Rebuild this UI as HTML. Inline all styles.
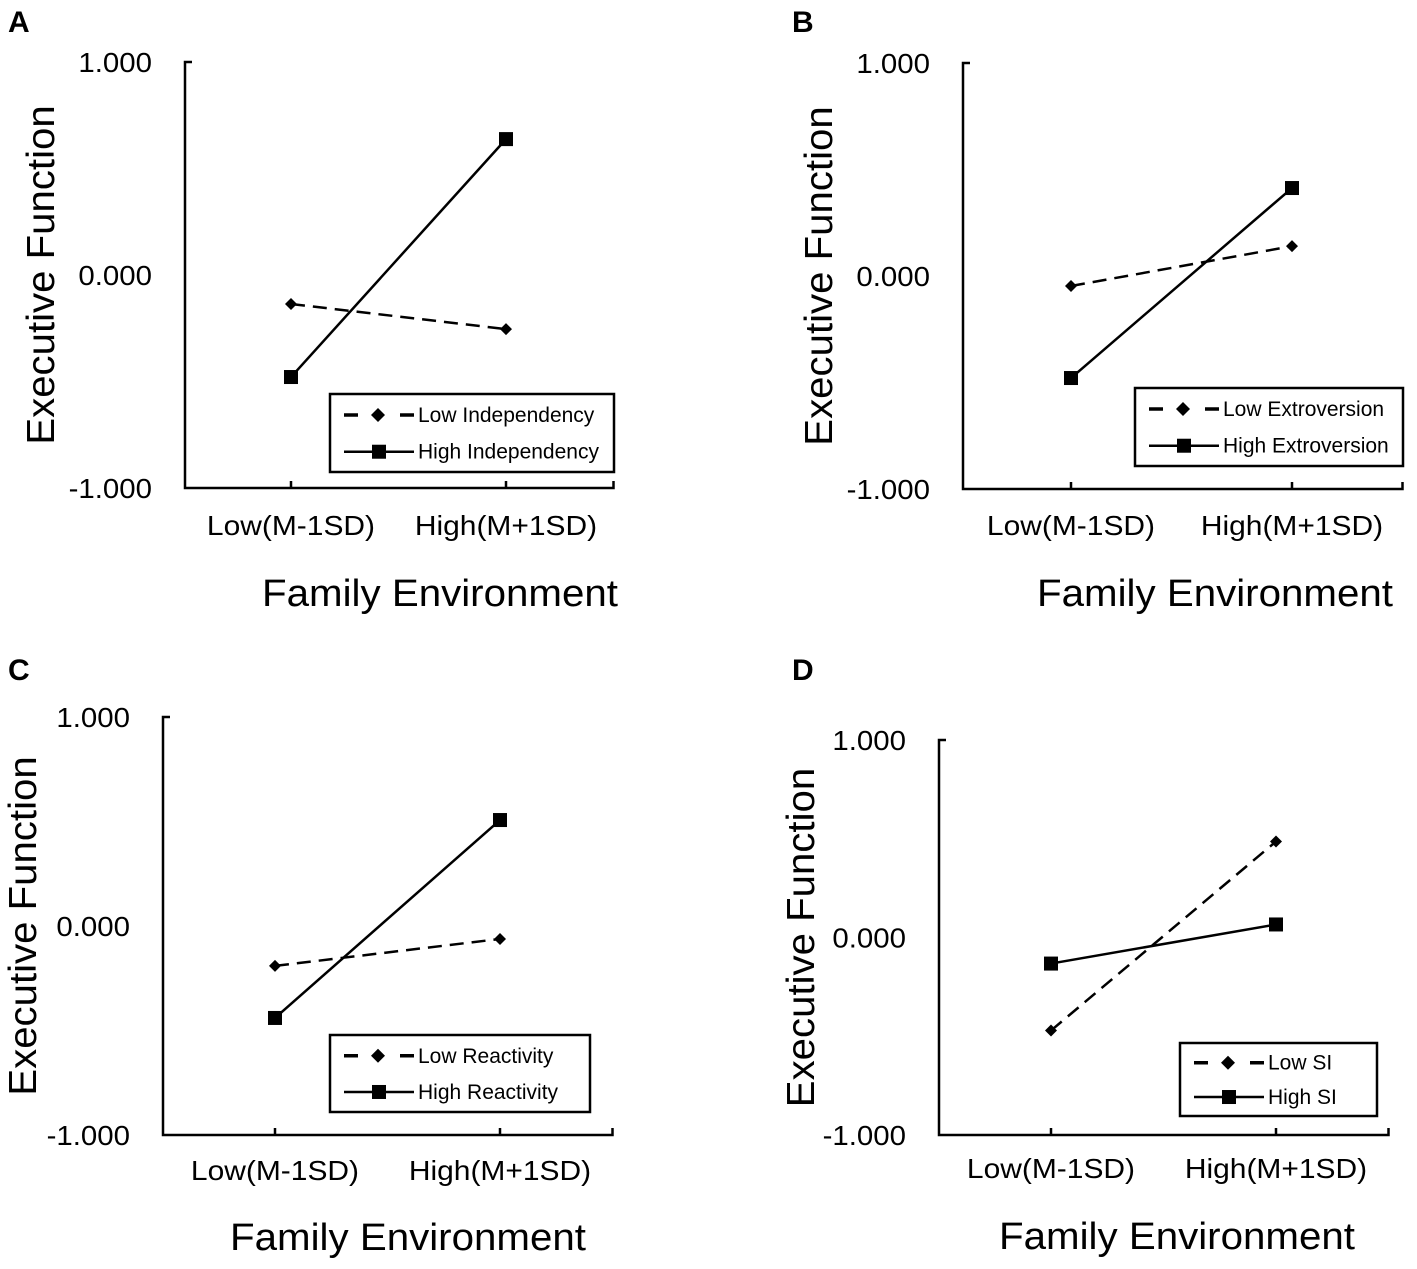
<!DOCTYPE html>
<html><head><meta charset="utf-8"><style>
body{margin:0;background:#fff;}
svg{display:block;font-family:"Liberation Sans",Arial,sans-serif;}
</style></head><body>
<svg id="chart" width="1417" height="1269" viewBox="0 0 1417 1269"></svg>
<script>
const categories = ["Low(M-1SD)", "High(M+1SD)"];
const yTicks = [1, 0, -1];
const yTickLabels = ["1.000", "0.000", "-1.000"];
const panelLetters = ["A", "B", "C", "D"];
const lowSeriesNames = ["Low Independency", "Low Extroversion", "Low Reactivity", "Low SI"];
const highSeriesNames = ["High Independency", "High Extroversion", "High Reactivity", "High SI"];
const lowSeriesA = [-0.136, -0.254];
const highSeriesA = [-0.479, 0.638];
const lowSeriesB = [-0.047, 0.140];
const highSeriesB = [-0.479, 0.413];
const lowSeriesC = [-0.191, -0.062];
const highSeriesC = [-0.440, 0.507];
const lowSeriesD = [-0.471, 0.486];
const highSeriesD = [-0.132, 0.066];
const lowSeries = [lowSeriesA, lowSeriesB, lowSeriesC, lowSeriesD];
const highSeries = [highSeriesA, highSeriesB, highSeriesC, highSeriesD];

const layouts = [
 {lx:8,ly:32,ax:185,top:62,bot:488,x0:291,x1:506,tx:40,lg:[330,394,284,78],xl:525,xt:593,xtc:440},
 {lx:792,ly:32,ax:963,top:63,bot:489,x0:1071,x1:1292,tx:818,lg:[1135,388,268,78],xl:525,xt:593,xtc:1215},
 {lx:8,ly:680,ax:163,top:717,bot:1135,x0:275,x1:500,tx:22,lg:[330,1035,260,77],xl:1170,xt:1237,xtc:408},
 {lx:792,ly:680,ax:939,top:740,bot:1135,x0:1051,x1:1276,tx:800,lg:[1180,1043,197,73],xl:1168,xt:1236,xtc:1177}
];
const NS="http://www.w3.org/2000/svg";
const svg=document.getElementById('chart');
function mk(tag,attrs,parent,text){const e=document.createElementNS(NS,tag);for(const k in attrs)e.setAttribute(k,attrs[k]);if(text!==undefined)e.textContent=text;(parent||svg).appendChild(e);return e;}
function stretch(t,f){const w=t.getComputedTextLength();t.setAttribute('textLength',(w*f).toFixed(1));t.setAttribute('lengthAdjust','spacingAndGlyphs');}

layouts.forEach((L,i)=>{
 const g=mk('g',{});
 
 
 const yS=v=>L.bot-(v+1)/2*(L.bot-L.top);
 const xS=c=>c===0?L.x0:L.x1;
 const xEnd=L.x1+(L.x1-L.x0)/2;
 const letter=mk('text',{x:L.lx,y:L.ly,'font-size':30,'font-weight':'bold'},g,panelLetters[i]);
 
 
 const ya=mk('path',{d:`M${L.ax+7},${L.top}H${L.ax}V${L.bot}H${xEnd}V${L.bot-7}M${L.x0},${L.bot}V${L.bot-7}M${L.x1},${L.bot}V${L.bot-7}`,stroke:'#000','stroke-width':2.5,fill:'none'},g);
 
 
 yTicks.forEach((t,j)=>{
  const tl=mk('text',{x:L.ax-33,y:yS(t)+10,'font-size':28,'text-anchor':'end'},g,yTickLabels[j]);
  
  
  stretch(tl,1.05);
 });
 categories.forEach((c,j)=>{
  const cl=mk('text',{x:xS(j),y:L.xl+10,'font-size':28,'text-anchor':'middle'},g,c);
  
  
  stretch(cl,1.07);
 });
 const xt=mk('text',{x:L.xtc,y:L.xt+13,'font-size':38,'text-anchor':'middle'},g,'Family Environment');
 
 
 stretch(xt,1.06);
 const cy=(L.top+L.bot)/2;
 const yt=mk('text',{x:L.tx+14,y:cy,'font-size':39,'text-anchor':'middle',transform:`rotate(-90 ${L.tx+14} ${cy})`},g,'Executive Function');
 
 
 stretch(yt,1.03);
 const lo=lowSeries[i], hi=highSeries[i];
 const l1=mk('line',{x1:xS(0),y1:yS(lo[0]),x2:xS(1),y2:yS(lo[1]),stroke:'#000','stroke-width':2.5,'stroke-dasharray':'14,8'},g);
 
 
 const l2=mk('line',{x1:xS(0),y1:yS(hi[0]),x2:xS(1),y2:yS(hi[1]),stroke:'#000','stroke-width':2.5},g);
 
 
 lo.forEach((v,j)=>{const x=xS(j),y=yS(v);
  const p=mk('path',{d:`M${x},${y-6}L${x+6},${y}L${x},${y+6}L${x-6},${y}Z`,fill:'#000'},g);
  
  
 });
 hi.forEach((v,j)=>{const x=xS(j),y=yS(v);
  const p=mk('rect',{x:x-7,y:y-7,width:14,height:14,fill:'#000'},g);
  
  
 });
 const [bx,by,bw,bh]=L.lg;
 const lg=mk('g',{},g);
 
 
 mk('rect',{x:bx,y:by,width:bw,height:bh,fill:'#fff',stroke:'#000','stroke-width':2.5},lg);
 const r1=by+bh*0.27, r2=by+bh*0.74;
 const sx=bx+14, ex=bx+80;
 const e1=mk('g',{},lg);
 
 
 mk('path',{d:`M${sx},${r1}h14M${sx+56},${r1}h14`,stroke:'#000','stroke-width':3.5},e1);
 mk('path',{d:`M${sx+34},${r1-7}l7,7l-7,7l-7,-7Z`,fill:'#000'},e1);
 mk('text',{x:ex+8,y:r1+7,'font-size':21},e1,lowSeriesNames[i]);
 const e2=mk('g',{},lg);
 
 
 mk('path',{d:`M${sx},${r2}h70`,stroke:'#000','stroke-width':2.5},e2);
 mk('rect',{x:sx+28,y:r2-7,width:14,height:14,fill:'#000'},e2);
 mk('text',{x:ex+8,y:r2+7,'font-size':21},e2,highSeriesNames[i]);
});
</script>
</body></html>
